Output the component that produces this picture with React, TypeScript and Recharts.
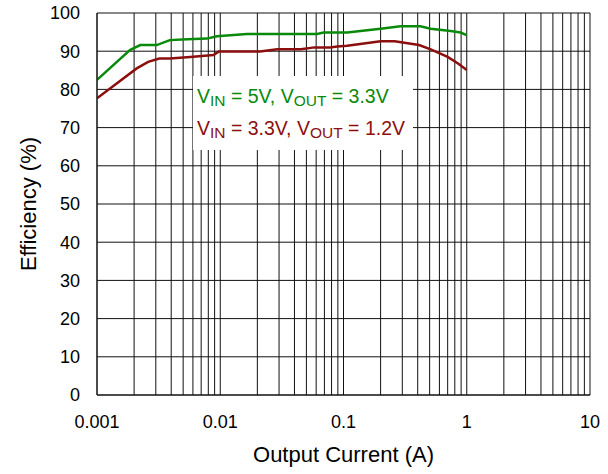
import React from 'react';
import { LineChart, Line, XAxis, YAxis, CartesianGrid, Label } from 'recharts';

// output current (A) and efficiency (%)
const currentHigh = [0.001, 0.00185, 0.00224, 0.00305, 0.0039, 0.0054, 0.0078, 0.0094, 0.0165, 0.061, 0.069, 0.107, 0.2, 0.29, 0.42, 0.51, 0.74, 0.89, 1.0];
const efficiencyHigh = [82.5, 90.3, 91.6, 91.6, 92.9, 93.1, 93.3, 93.9, 94.5, 94.5, 94.9, 94.9, 95.9, 96.5, 96.5, 95.9, 95.3, 94.9, 94.2];

const currentLow = [0.001, 0.0014, 0.0021, 0.0026, 0.0032, 0.0039, 0.0057, 0.0088, 0.0097, 0.021, 0.029, 0.045, 0.058, 0.078, 0.089, 0.107, 0.2, 0.26, 0.41, 0.51, 0.7, 0.85, 1.0];
const efficiencyLow = [77.7, 81.2, 85.5, 87.2, 88.1, 88.1, 88.5, 89.0, 89.9, 89.9, 90.5, 90.5, 91.0, 91.0, 91.2, 91.4, 92.6, 92.6, 91.6, 90.5, 88.5, 86.8, 85.1];

const xTicks = [
  0.001, 0.002, 0.003, 0.004, 0.005, 0.006, 0.007, 0.008, 0.009,
  0.01, 0.02, 0.03, 0.04, 0.05, 0.06, 0.07, 0.08, 0.09,
  0.1, 0.2, 0.3, 0.4, 0.5, 0.6, 0.7, 0.8, 0.9,
  1, 2, 3, 4, 5, 6, 7, 8, 9,
  10,
];
const xLabels = [0.001, 0.01, 0.1, 1, 10];
const yTicks = [0, 10, 20, 30, 40, 50, 60, 70, 80, 90, 100];

const highData = currentHigh.map((x, i) => ({ x, eff: efficiencyHigh[i] }));
const lowData = currentLow.map((x, i) => ({ x, eff: efficiencyLow[i] }));

const FONT = '"Liberation Sans", Arial, Helvetica, sans-serif';
const GREEN = '#0a8a0a';
const RED = '#8c0f0f';

function LegendLine({ color, vin, vout, top }: { color: string; vin: string; vout: string; top: number }) {
  const sub: React.CSSProperties = { fontSize: 15.5, position: 'relative', top: 3 };
  return (
    <div style={{ position: 'absolute', left: 4, top, color, fontSize: 19.5, lineHeight: '19px', whiteSpace: 'nowrap' }}>
      V<span style={sub}>IN</span> = {vin}, V<span style={sub}>OUT</span> = {vout}
    </div>
  );
}

export default function App() {
  return (
    <div style={{ position: 'absolute', left: 0, top: 0, width: 608, height: 474, background: '#fff', fontFamily: FONT }}>
      <LineChart width={608} height={474} data={highData} margin={{ top: 13, right: 18, left: 0, bottom: 0 }}>
        <CartesianGrid stroke="#111" strokeWidth={1} />
        <XAxis
          dataKey="x"
          type="number"
          scale="log"
          domain={[0.001, 10]}
          ticks={xTicks}
          interval={0}
          allowDataOverflow
          height={79}
          tickLine={false}
          axisLine={{ stroke: '#111' }}
          tickMargin={14}
          tick={{ fill: '#000', fontSize: 18, fontFamily: FONT }}
          tickFormatter={(v: number) => (xLabels.some((l) => Math.abs(l - v) < 1e-9) ? String(v) : '')}
        >
          <Label value="Output Current (A)" position="insideBottom" offset={12} style={{ fill: '#000', fontSize: 22, fontFamily: FONT }} />
        </XAxis>
        <YAxis
          type="number"
          domain={[0, 100]}
          ticks={yTicks}
          interval={0}
          width={97}
          tickLine={false}
          axisLine={{ stroke: '#111' }}
          tickMargin={11}
          tick={{ fill: '#000', fontSize: 18, fontFamily: FONT }}
        >
          <Label
            value="Efficiency (%)"
            angle={-90}
            position="insideLeft"
            offset={28}
            style={{ fill: '#000', fontSize: 22, fontFamily: FONT, textAnchor: 'middle' }}
          />
        </YAxis>
        <Line data={highData} dataKey="eff" type="linear" stroke={GREEN} strokeWidth={2.5} dot={false} isAnimationActive={false} />
        <Line data={lowData} dataKey="eff" type="linear" stroke={RED} strokeWidth={2.5} dot={false} isAnimationActive={false} />
      </LineChart>
      <div style={{ position: 'absolute', left: 193, top: 76, width: 220, height: 74, background: '#fff' }}>
        <LegendLine color={GREEN} vin="5V" vout="3.3V" top={11} />
        <LegendLine color={RED} vin="3.3V" vout="1.2V" top={43} />
      </div>
    </div>
  );
}
